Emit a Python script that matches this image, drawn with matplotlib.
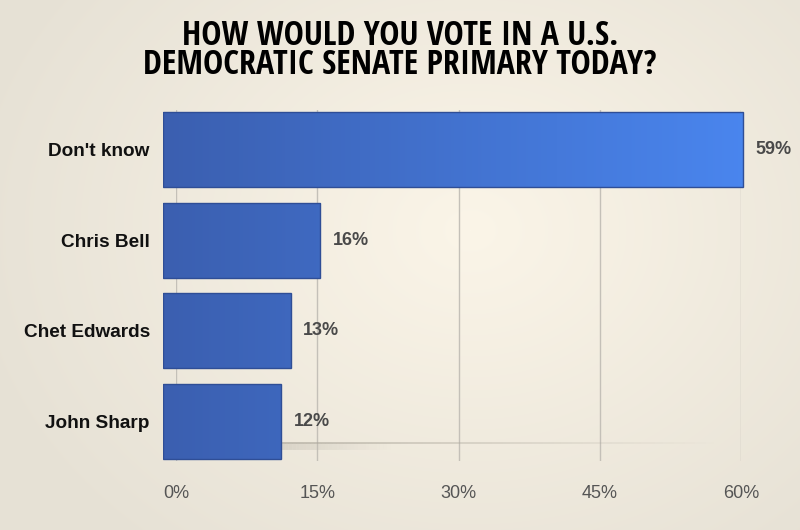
import matplotlib
matplotlib.use('Agg')
import matplotlib.pyplot as plt
import numpy as np
from matplotlib.colors import LinearSegmentedColormap

# Poll results
candidates = ["Don't know", "Chris Bell", "Chet Edwards", "John Sharp"]
shares = [59, 16, 13, 12]
tick_values = [0, 15, 30, 45, 60]
tick_labels = ['0%', '15%', '30%', '45%', '60%']
title = 'HOW WOULD YOU VOTE IN A U.S.\nDEMOCRATIC SENATE PRIMARY TODAY?'

W, H = 800, 530
fig = plt.figure(figsize=(W / 100, H / 100), dpi=100)

# radial cream background
bg = fig.add_axes([0, 0, 1, 1], zorder=0)
yy, xx = np.mgrid[0:H, 0:W]
r = np.sqrt(((xx - 470) / 520.0) ** 2 + ((yy - 230) / 420.0) ** 2)
r = np.clip(r, 0, 1)
light = np.array([0xfb, 0xf5, 0xe8]) / 255
dark = np.array([0xe6, 0xe1, 0xd5]) / 255
img = light[None, None, :] * (1 - r[..., None]) + dark[None, None, :] * r[..., None]
bg.imshow(img, extent=(0, W, H, 0), aspect='auto')
bg.set_axis_off()

def frac(x0, x1, y0, y1):
    return [x0 / W, 1 - y1 / H, (x1 - x0) / W, (y1 - y0) / H]

label_font = ['Liberation Sans', 'DejaVu Sans']

# back wall: gridlines and tick labels
back = fig.add_axes(frac(176, 741, 110, 461), zorder=1)
back.set_xlim(0, 60)
back.set_ylim(0, 1)
back.patch.set_visible(False)
back.set_xticks(tick_values)
back.set_xticklabels(tick_labels, fontsize=13, color='#555555', family=label_font)
back.tick_params(axis='x', length=0, pad=17)
back.set_yticks([])
back.grid(axis='x', color='#c4c0b8', linewidth=1)
for s in back.spines.values():
    s.set_visible(False)

# front plane: bars
ax = fig.add_axes(frac(163, 753, 110, 461), zorder=2)
ax.patch.set_visible(False)
ax.set_xlim(0, 60)
ypos = np.arange(len(candidates))
ax.set_ylim(3.436, -0.436)

cmap = LinearSegmentedColormap.from_list('bar', ['#3b5fb0', '#4a86ef'])
grad = np.linspace(0, 1, 256)[None, :]

bars = ax.barh(ypos, shares, height=0.83, color='none',
               edgecolor='#2f4e96', linewidth=1, zorder=3)
for b in bars:
    im = ax.imshow(grad, cmap=cmap, extent=(0, 60, 3.436, -0.436),
                   aspect='auto', zorder=2)
    im.set_clip_path(b)

# floor shadow behind the last bar
last = len(candidates) - 1
x0 = shares[last]
xs = np.linspace(x0, 56, 120)
for i in range(len(xs) - 1):
    t = i / (len(xs) - 1)
    ax.plot(xs[i:i + 2], [last + 0.24] * 2, color='#aca79b',
            linewidth=1.3, alpha=0.7 * (1 - t), solid_capstyle='butt', zorder=1)
    if t < 0.25:
        ax.plot(xs[i:i + 2], [last + 0.27] * 2, color='#c2bdb1',
                linewidth=5, alpha=0.45 * (1 - t / 0.25), solid_capstyle='butt', zorder=1)

for yv, v in zip(ypos, shares):
    ax.annotate(f'{v}%', (v, yv), xytext=(9, 0), textcoords='offset points',
                va='center', ha='left', fontsize=13, fontweight='bold',
                color='#4a4a4a', family=label_font)

ax.set_yticks(ypos)
ax.set_yticklabels(candidates, fontsize=13.7, fontweight='bold', color='#111111',
                   family=label_font)
ax.tick_params(axis='y', length=0, pad=9.5)
ax.set_xticks([])
for s in ax.spines.values():
    s.set_visible(False)

fig.text(0.5, 1 - 19 / H, title, ha='center', va='top', fontsize=24.5,
         fontweight='bold', linespacing=0.8, color='#000000',
         family=['Open Sans Condensed', 'DejaVu Sans'])

fig.savefig('out.png', dpi=100)
